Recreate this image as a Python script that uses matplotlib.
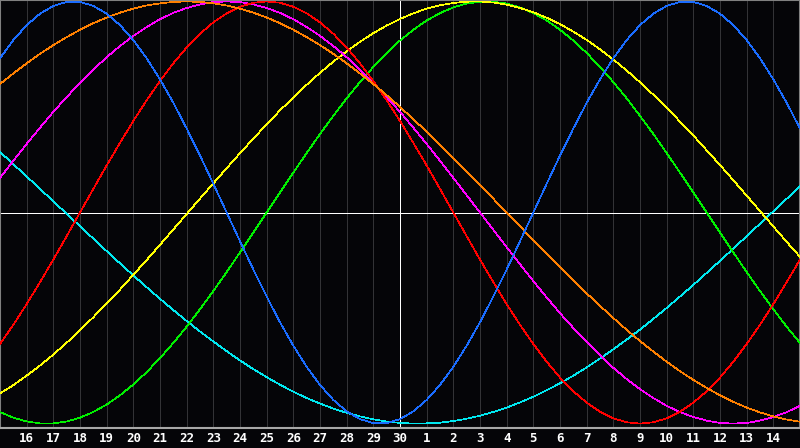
import matplotlib
matplotlib.use("Agg")
from matplotlib import pyplot as plt

# day labels under the grid lines (t = 1 .. 29); t = 0 and t = 30 are the 15th
day_labels = ["16", "17", "18", "19", "20", "21", "22", "23", "24", "25", "26", "27",
              "28", "29", "30", "1", "2", "3", "4", "5", "6", "7", "8", "9", "10",
              "11", "12", "13", "14"]
grid_days = list(range(1, 30))
# the curves were read every half day, t = 0, 0.5, ... 30
days = [i / 2 for i in range(61)]

# cycle values, from -1 (bottom) to 1 (top)
physical = [0.731, 0.817, 0.888, 0.942, 0.979, 0.998, 0.998, 0.979, 0.942, 0.888,
            0.817, 0.731, 0.631, 0.520, 0.398, 0.270, 0.136, 0.000, -0.136, -0.270,
            -0.398, -0.520, -0.631, -0.731, -0.817, -0.888, -0.942, -0.979, -0.998,
            -0.998, -0.979, -0.942, -0.888, -0.817, -0.731, -0.631, -0.520, -0.398,
            -0.270, -0.136, 0.000, 0.136, 0.270, 0.398, 0.520, 0.631, 0.731, 0.817,
            0.888, 0.942, 0.979, 0.998, 0.998, 0.979, 0.942, 0.888, 0.817, 0.731,
            0.631, 0.520, 0.398]
emotional = [-0.623, -0.532, -0.434, -0.330, -0.223, -0.112, 0.000, 0.112, 0.223,
             0.330, 0.434, 0.532, 0.623, 0.707, 0.782, 0.847, 0.901, 0.944, 0.975,
             0.994, 1.000, 0.994, 0.975, 0.944, 0.901, 0.847, 0.782, 0.707, 0.623,
             0.532, 0.434, 0.330, 0.223, 0.112, 0.000, -0.112, -0.223, -0.330, -0.434,
             -0.532, -0.623, -0.707, -0.782, -0.847, -0.901, -0.944, -0.975, -0.994,
             -1.000, -0.994, -0.975, -0.944, -0.901, -0.847, -0.782, -0.707, -0.623,
             -0.532, -0.434, -0.330, -0.223]
intellectual = [-0.945, -0.972, -0.990, -0.999, -0.999, -0.990, -0.972, -0.945,
                -0.910, -0.866, -0.815, -0.756, -0.690, -0.618, -0.541, -0.458,
                -0.372, -0.282, -0.189, -0.095, 0.000, 0.095, 0.189, 0.282, 0.372,
                0.458, 0.541, 0.618, 0.690, 0.756, 0.815, 0.866, 0.910, 0.945, 0.972,
                0.990, 0.999, 0.999, 0.990, 0.972, 0.945, 0.910, 0.866, 0.815, 0.756,
                0.690, 0.618, 0.541, 0.458, 0.372, 0.282, 0.189, 0.095, 0.000, -0.095,
                -0.189, -0.282, -0.372, -0.458, -0.541, -0.618]
intuitive = [0.164, 0.245, 0.325, 0.402, 0.477, 0.547, 0.614, 0.677, 0.736, 0.789,
             0.837, 0.879, 0.916, 0.946, 0.969, 0.986, 0.997, 1.000, 0.997, 0.986,
             0.969, 0.946, 0.916, 0.879, 0.837, 0.789, 0.736, 0.677, 0.614, 0.547,
             0.477, 0.402, 0.325, 0.245, 0.164, 0.082, 0.000, -0.082, -0.164, -0.245,
             -0.325, -0.402, -0.477, -0.547, -0.614, -0.677, -0.736, -0.789, -0.837,
             -0.879, -0.916, -0.946, -0.969, -0.986, -0.997, -1.000, -0.997, -0.986,
             -0.969, -0.946, -0.916]
aesthetic = [-0.857, -0.818, -0.773, -0.725, -0.673, -0.617, -0.558, -0.496, -0.431,
             -0.365, -0.295, -0.225, -0.153, -0.080, -0.007, 0.066, 0.138, 0.210,
             0.281, 0.350, 0.418, 0.484, 0.545, 0.605, 0.662, 0.715, 0.764, 0.809,
             0.850, 0.886, 0.917, 0.944, 0.966, 0.982, 0.993, 0.999, 1.000, 0.995,
             0.985, 0.969, 0.949, 0.923, 0.893, 0.857, 0.818, 0.773, 0.725, 0.673,
             0.617, 0.558, 0.496, 0.431, 0.365, 0.295, 0.225, 0.153, 0.080, 0.007,
             -0.066, -0.139, -0.210]
awareness = [0.609, 0.659, 0.707, 0.752, 0.793, 0.831, 0.866, 0.897, 0.924, 0.947,
             0.966, 0.981, 0.991, 0.998, 1.000, 0.998, 0.991, 0.981, 0.966, 0.947,
             0.924, 0.897, 0.866, 0.831, 0.793, 0.752, 0.707, 0.659, 0.609, 0.556,
             0.500, 0.442, 0.383, 0.321, 0.259, 0.195, 0.131, 0.065, 0.000, -0.065,
             -0.131, -0.195, -0.259, -0.321, -0.383, -0.442, -0.500, -0.556, -0.609,
             -0.659, -0.707, -0.752, -0.793, -0.831, -0.866, -0.897, -0.924, -0.947,
             -0.966, -0.981, -0.991]
spiritual = [0.287, 0.229, 0.171, 0.112, 0.053, -0.006, -0.065, -0.124, -0.183,
             -0.241, -0.298, -0.354, -0.409, -0.462, -0.514, -0.564, -0.611, -0.657,
             -0.701, -0.742, -0.780, -0.816, -0.849, -0.879, -0.905, -0.929, -0.949,
             -0.966, -0.980, -0.990, -0.997, -1.000, -0.999, -0.996, -0.988, -0.977,
             -0.963, -0.945, -0.924, -0.900, -0.873, -0.842, -0.809, -0.773, -0.734,
             -0.692, -0.648, -0.602, -0.555, -0.504, -0.452, -0.398, -0.343, -0.286,
             -0.229, -0.171, -0.112, -0.053, 0.006, 0.065, 0.124]

bg = "#050508"
fig = plt.figure(figsize=(8, 4.48), dpi=100, facecolor=bg)
ax = fig.add_axes([0, 20 / 448, 1, 428 / 448], facecolor=bg)

# day grid
for t in grid_days:
    ax.axvline(t, color="#333336", lw=0.5, antialiased=False, zorder=1)
ax.axvline(15, color="white", lw=0.5, antialiased=False, zorder=2)
ax.axhline(0, color="white", lw=0.5, antialiased=False, zorder=2)

series = [
    (spiritual, "#00e8f0"),
    (intellectual, "#00f000"),
    (aesthetic, "#ffff00"),
    (intuitive, "#ff00ff"),
    (emotional, "#ff0000"),
    (awareness, "#ff8000"),
    (physical, "#1a6cff"),
]
for vals, col in series:
    ax.plot(days, vals, color=col, lw=0.5, antialiased=False, zorder=3)

ax.set_xlim(0, 30)
ax.set_ylim(-1.021, 1.007)
ax.set_yticks([])
ax.set_xticks(grid_days)
ax.set_xticklabels(day_labels, color="white", fontsize=9, fontweight="bold",
                   family="DejaVu Sans Mono")
ax.tick_params(axis="x", length=0, pad=3)
for side in ["left", "top", "right"]:
    ax.spines[side].set_color("#808080")
ax.spines["bottom"].set_color("#a8a8a8")
for s in ax.spines.values():
    s.set_linewidth(1.5)

fig.savefig("out.png", dpi=100, facecolor=bg)
